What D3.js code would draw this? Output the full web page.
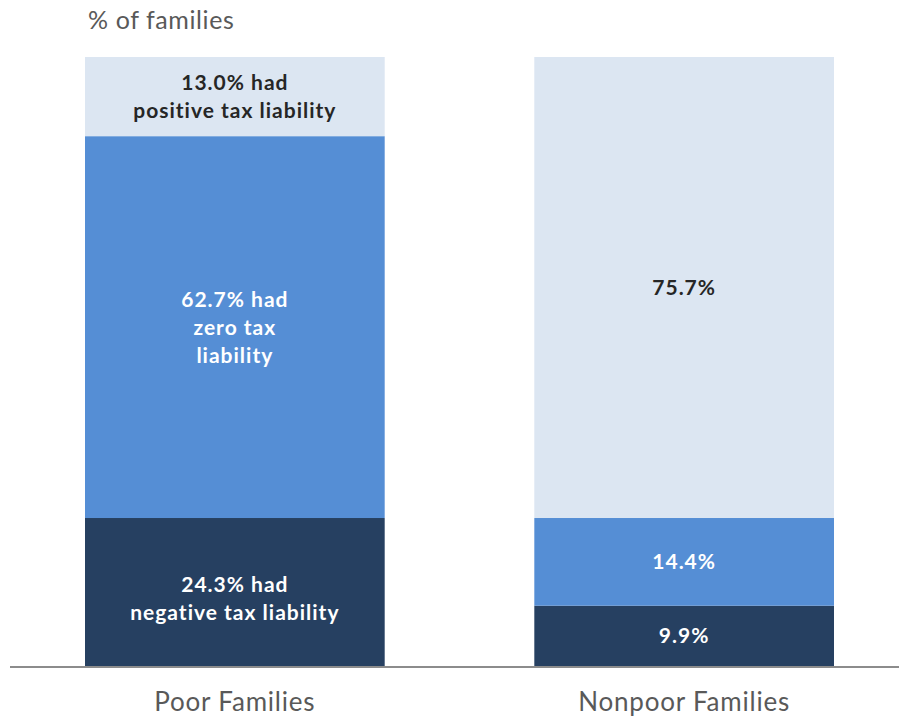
<!DOCTYPE html>
<html>
<head>
<meta charset="utf-8">
<script src="https://cdn.jsdelivr.net/npm/d3@7"></script>
<style>
  html, body { margin: 0; padding: 0; background: #fff; }
  svg { display: block; font-family: Lato, "Open Sans", sans-serif; }
</style>
</head>
<body>
<svg id="chart" width="899" height="719"></svg>
<script>
// Share of families by tax liability status
const categories = ["Poor Families", "Nonpoor Families"];
const segments = ["negative", "zero", "positive"];
const negativeValues = [24.3, 9.9];
const zeroValues = [62.7, 14.4];
const positiveValues = [13.0, 75.7];
const segmentLabels = [
  ["24.3% had", "negative tax liability"],
  ["62.7% had", "zero tax", "liability"],
  ["13.0% had", "positive tax liability"]
];
const nonpoorLabels = [["9.9%"], ["14.4%"], ["75.7%"]];
const axisTitle = "% of families";

const colors = { negative: "#264061", zero: "#558ed5", positive: "#dce6f2" };
const textColors = { negative: "#ffffff", zero: "#ffffff", positive: "#262626" };

const svg = d3.select("#chart");
const baseY = 666, topY = 57;

const x = d3.scaleBand().domain(categories).range([85, 834]).paddingInner(0.333).paddingOuter(0);
const y = d3.scaleLinear().domain([0, 100]).range([baseY, topY]);

const rows = categories.map((c, i) => ({
  category: c,
  negative: negativeValues[i],
  zero: zeroValues[i],
  positive: positiveValues[i]
}));
const stacked = d3.stack().keys(segments)(rows);

const layer = svg.selectAll("g.layer").data(stacked).join("g").attr("class", "layer");
layer.selectAll("rect").data(d => d.map(p => ({ key: d.key, p })))
  .join("rect")
  .attr("x", d => x(d.p.data.category))
  .attr("width", x.bandwidth())
  .attr("y", d => y(d.p[1]))
  .attr("height", d => y(d.p[0]) - y(d.p[1]))
  .attr("fill", d => colors[d.key]);

// Segment labels, centred in each segment
const lineH = 28;
stacked.forEach((s, si) => {
  s.forEach((p, ci) => {
    const lines = ci === 0 ? segmentLabels[si] : nonpoorLabels[si];
    const cx = x(p.data.category) + x.bandwidth() / 2;
    const cy = (y(p[0]) + y(p[1])) / 2 + (lines.length === 2 && s.key === "negative" ? 6 : 0);
    const t = svg.append("text")
      .attr("x", cx)
      .attr("text-anchor", "middle")
      .attr("font-weight", "bold")
      .attr("font-size", 21)
      .attr("letter-spacing", 1)
      .attr("fill", textColors[s.key]);
    lines.forEach((ln, li) => {
      t.append("tspan")
        .attr("x", cx)
        .attr("y", cy + (li - (lines.length - 1) / 2) * lineH)
        .attr("dy", "0.36em")
        .text(ln);
    });
  });
});

// Baseline
svg.append("line")
  .attr("x1", 10).attr("x2", 899)
  .attr("y1", baseY + 1).attr("y2", baseY + 1)
  .attr("stroke", "#8c8c8c").attr("stroke-width", 2);

// Category axis
const xAxis = svg.append("g")
  .attr("transform", `translate(0,${baseY + 2})`)
  .call(d3.axisBottom(x).tickSize(0).tickPadding(25));
xAxis.select(".domain").remove();
xAxis.selectAll("text")
  .attr("font-family", "Lato, 'Open Sans', sans-serif")
  .attr("font-size", 26)
  .attr("letter-spacing", 0.8)
  .attr("fill", "#595959");

// Axis title
svg.append("text")
  .attr("x", 88).attr("y", 29)
  .attr("font-size", 25)
  .attr("letter-spacing", 0.6)
  .attr("fill", "#595959")
  .text(axisTitle);
</script>
</body>
</html>
